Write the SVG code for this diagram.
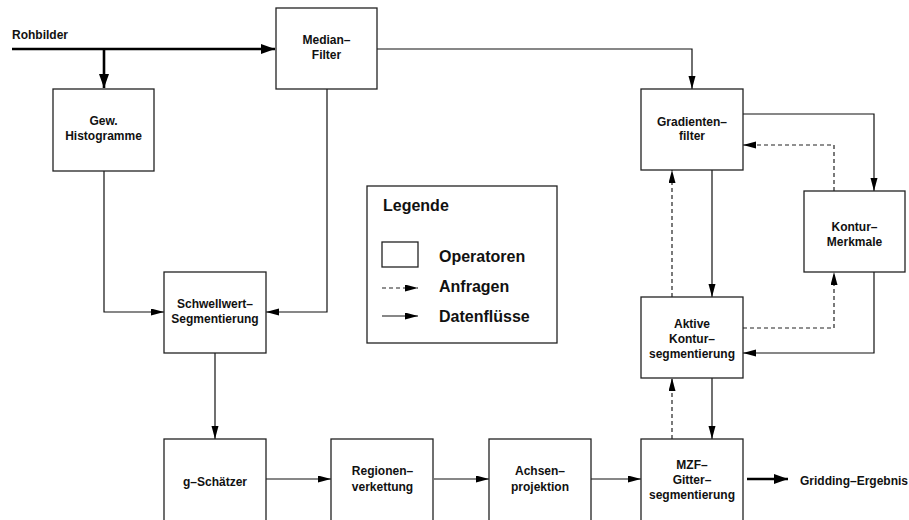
<svg xmlns="http://www.w3.org/2000/svg" width="909" height="520" viewBox="0 0 909 520">
<style>
.box{fill:#fff;stroke:#222;stroke-width:1.3}
.t{font-family:"Liberation Sans",Arial,sans-serif;font-weight:bold;font-size:12px;fill:#111;text-anchor:middle}
.tl{font-family:"Liberation Sans",Arial,sans-serif;font-weight:bold;font-size:12px;fill:#111}
.lg{font-family:"Liberation Sans",Arial,sans-serif;font-weight:bold;font-size:16px;fill:#111}
.c{fill:none;stroke:#111;stroke-width:1.2}
.d{fill:none;stroke:#222;stroke-width:1.2;stroke-dasharray:4,3}
.k{fill:none;stroke:#000;stroke-width:2.6}
</style>
<defs>
<marker id="a" markerUnits="userSpaceOnUse" markerWidth="14" markerHeight="8" refX="13" refY="3.5" orient="auto"><path d="M0,0 L13,3.5 L0,7 z" fill="#000"/></marker>
<marker id="ak" markerUnits="userSpaceOnUse" markerWidth="15" markerHeight="11" refX="14" refY="5" orient="auto"><path d="M0,0 L14,5 L0,10 z" fill="#000"/></marker>
</defs>
<g id="connectors">
<path class="k" d="M12,49 H275" marker-end="url(#ak)"/>
<path class="k" d="M104,49 V88" marker-end="url(#ak)"/>
<path class="c" d="M377,49 H692 V89" marker-end="url(#a)"/>
<path class="c" d="M104,171 V312 H164" marker-end="url(#a)"/>
<path class="c" d="M327,89 V312 H266" marker-end="url(#a)"/>
<path class="c" d="M215,353 V439" marker-end="url(#a)"/>
<path class="c" d="M266,479 H331" marker-end="url(#a)"/>
<path class="c" d="M434,479 H489" marker-end="url(#a)"/>
<path class="c" d="M591,479 H641" marker-end="url(#a)"/>
<path class="c" d="M743,114 H874 V191" marker-end="url(#a)"/>
<path class="d" d="M834,191 V145 H743" marker-end="url(#a)"/>
<path class="c" d="M712,170 V297" marker-end="url(#a)"/>
<path class="d" d="M672,297 V170" marker-end="url(#a)"/>
<path class="d" d="M743,328 H834 V272" marker-end="url(#a)"/>
<path class="c" d="M874,272 V353 H743" marker-end="url(#a)"/>
<path class="c" d="M712,378 V439" marker-end="url(#a)"/>
<path class="d" d="M672,439 V378" marker-end="url(#a)"/>
<path class="k" d="M747,479 H788" marker-end="url(#ak)"/>
</g>
<g id="rohbilder"><text class="tl" x="12" y="39">Rohbilder</text></g>
<g id="median"><rect class="box" x="276" y="8" width="101" height="81"/><text class="t" x="326.5" y="44">Median–</text><text class="t" x="326.5" y="59">Filter</text></g>
<g id="histogramme"><rect class="box" x="53" y="89" width="101" height="82"/><text class="t" x="103.5" y="125">Gew.</text><text class="t" x="103.5" y="140">Histogramme</text></g>
<g id="gradientenfilter"><rect class="box" x="641" y="89" width="102" height="81"/><text class="t" x="692" y="126">Gradienten–</text><text class="t" x="692" y="140">filter</text></g>
<g id="konturmerkmale"><rect class="box" x="804" y="191" width="101" height="81"/><text class="t" x="854.5" y="231">Kontur–</text><text class="t" x="854.5" y="246">Merkmale</text></g>
<g id="schwellwert"><rect class="box" x="164" y="272" width="102" height="81"/><text class="t" x="215" y="308">Schwellwert–</text><text class="t" x="215" y="323">Segmentierung</text></g>
<g id="aktive"><rect class="box" x="641" y="297" width="102" height="81"/><text class="t" x="692" y="328">Aktive</text><text class="t" x="692" y="343">Kontur–</text><text class="t" x="692" y="358">segmentierung</text></g>
<g id="gschaetzer"><rect class="box" x="164" y="439" width="102" height="83"/><text class="t" x="215" y="486">g–Schätzer</text></g>
<g id="regionen"><rect class="box" x="331" y="439" width="102" height="83"/><text class="t" x="382.5" y="475">Regionen–</text><text class="t" x="382.5" y="491">verkettung</text></g>
<g id="achsen"><rect class="box" x="489" y="439" width="102" height="83"/><text class="t" x="540" y="475">Achsen–</text><text class="t" x="540" y="491">projektion</text></g>
<g id="mzf"><rect class="box" x="641" y="439" width="102" height="83"/><text class="t" x="692" y="469">MZF–</text><text class="t" x="692" y="484">Gitter–</text><text class="t" x="692" y="499">segmentierung</text></g>
<g id="gridding"><text class="tl" x="800" y="485">Gridding–Ergebnis</text></g>
<g id="legend">
<rect class="box" x="367" y="186" width="190" height="157"/>
<text class="lg" x="383" y="211">Legende</text>
<rect class="box" x="382" y="242" width="36" height="25"/>
<text class="lg" x="439" y="262">Operatoren</text>
<path class="d" d="M382,288 H418" marker-end="url(#a)"/>
<text class="lg" x="439" y="292">Anfragen</text>
<path class="c" d="M382,316 H418" marker-end="url(#a)"/>
<text class="lg" x="439" y="322">Datenflüsse</text>
</g>
</svg>
